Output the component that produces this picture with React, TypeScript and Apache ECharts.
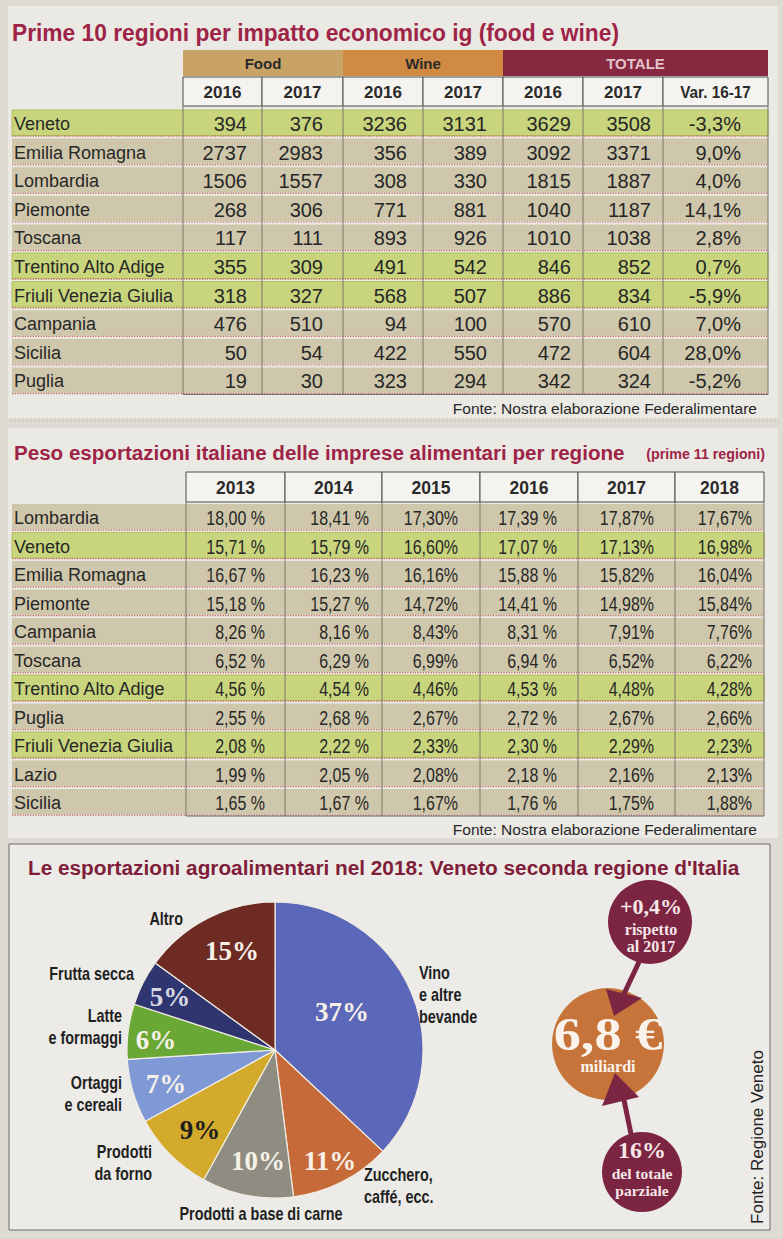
import React, { useEffect, useRef } from "react";
import * as echarts from "echarts";

const W = 783;
const H = 1239;

// ---------- Table 1 data ----------
const t1Title = "Prime 10 regioni per impatto economico ig (food e wine)";
const t1Groups = ["Food", "Wine", "TOTALE"];
const t1Years = ["2016", "2017", "2016", "2017", "2016", "2017", "Var. 16-17"];
const t1Regions = ["Veneto", "Emilia Romagna", "Lombardia", "Piemonte", "Toscana", "Trentino Alto Adige", "Friuli Venezia Giulia", "Campania", "Sicilia", "Puglia"];
const food2016 = [394, 2737, 1506, 268, 117, 355, 318, 476, 50, 19];
const food2017 = [376, 2983, 1557, 306, 111, 309, 327, 510, 54, 30];
const wine2016 = [3236, 356, 308, 771, 893, 491, 568, 94, 422, 323];
const wine2017 = [3131, 389, 330, 881, 926, 542, 507, 100, 550, 294];
const total2016 = [3629, 3092, 1815, 1040, 1010, 846, 886, 570, 472, 342];
const total2017 = [3508, 3371, 1887, 1187, 1038, 852, 834, 610, 604, 324];
const var1617 = [-3.3, 9.0, 4.0, 14.1, 2.8, 0.7, -5.9, 7.0, 28.0, -5.2];
const highlighted = ["Veneto", "Trentino Alto Adige", "Friuli Venezia Giulia"];
const source1 = "Fonte: Nostra elaborazione Federalimentare";

// ---------- Table 2 data ----------
const t2Title = "Peso esportazioni italiane delle imprese alimentari per regione";
const t2Subtitle = "(prime 11 regioni)";
const t2Years = ["2013", "2014", "2015", "2016", "2017", "2018"];
const t2Regions = ["Lombardia", "Veneto", "Emilia Romagna", "Piemonte", "Campania", "Toscana", "Trentino Alto Adige", "Puglia", "Friuli Venezia Giulia", "Lazio", "Sicilia"];
const share2013 = [18.0, 15.71, 16.67, 15.18, 8.26, 6.52, 4.56, 2.55, 2.08, 1.99, 1.65];
const share2014 = [18.41, 15.79, 16.23, 15.27, 8.16, 6.29, 4.54, 2.68, 2.22, 2.05, 1.67];
const share2015 = [17.3, 16.6, 16.16, 14.72, 8.43, 6.99, 4.46, 2.67, 2.33, 2.08, 1.67];
const share2016 = [17.39, 17.07, 15.88, 14.41, 8.31, 6.94, 4.53, 2.72, 2.3, 2.18, 1.76];
const share2017 = [17.87, 17.13, 15.82, 14.98, 7.91, 6.52, 4.48, 2.67, 2.29, 2.16, 1.75];
const share2018 = [17.67, 16.98, 16.04, 15.84, 7.76, 6.22, 4.28, 2.66, 2.23, 2.13, 1.88];
const source2 = "Fonte: Nostra elaborazione Federalimentare";

// ---------- Pie data ----------
const pieTitle = "Le esportazioni agroalimentari nel 2018: Veneto seconda regione d'Italia";
const pieCategories = ["Vino\ne altre\nbevande", "Zucchero,\ncaffé, ecc.", "Prodotti a base di carne", "Prodotti\nda forno", "Ortaggi\ne cereali", "Latte\ne formaggi", "Frutta secca", "Altro"];
const pieShares = [37, 11, 10, 9, 7, 6, 5, 15];
const totalValue = "6,8 €";
const totalUnit = "miliardi";
const changeValue = "+0,4%";
const changeText = ["rispetto", "al 2017"];
const shareValue = "16%";
const shareText = ["del totale", "parziale"];
const source3 = "Fonte: Regione Veneto";

// ---------- Styles / layout ----------
const SANS = "'Liberation Sans', Arial, sans-serif";
const SERIF = "'Liberation Serif', 'DejaVu Serif', serif";
const TITLE_RED = "#9e2447";
const TITLE_RED2 = "#801d3a";
const MAROON = "#7c2543";
const ORANGE = "#c6743a";
const ROW_BG = "#cfc7ab";
const ROW_HL = "#c8d57d";
const DOT = "#c25b5b";
const TEXT = "#272727";

const pieColors = ["#5b67b8", "#c76a3a", "#8f8d82", "#d3aa2c", "#7f98d6", "#6aa836", "#2f366f", "#6d2b23"];
const pieLabelColors = ["#f7f1e8", "#f7f1e8", "#f7f1e8", "#1e1e1e", "#f7f1e8", "#f7f1e8", "#d9d9e6", "#f7f1e8"];
const piePctPos = [[342, 1012], [330, 1161], [258, 1161], [200, 1130], [166, 1084], [156, 1040], [170, 997], [232, 951]];
// x, y of first line, alignment
const pieNamePos: [number, number, string][] = [[419, 972, "left"], [364, 1174, "left"], [261, 1213, "center"], [152, 1151, "right"], [122, 1082, "right"], [122, 1015, "right"], [134, 973, "right"], [183, 918, "right"]];
const NAME_LH = 22;

const t1ColEdges = [183, 262, 343, 423, 503, 583, 663, 768];
const t1NumRight = [247, 323, 407, 487, 571, 651, 741];
const t1GroupSpan = [[0, 2], [2, 4], [4, 7]];
const t1GroupFill = ["#c9a266", "#d08a42", "#86283f"];
const t1GroupText = ["#2a2a2a", "#2a2a2a", "#e3c3ca"];

const t2ColEdges = [186, 285, 382, 480, 578, 675, 764];
const t2NumRight = [265, 369, 458, 557, 654, 752];
const t2SpacedPct = [true, true, false, true, false, false];

function T(x: number, y: number, text: string, o: any = {}) {
  const align = o.align ?? "left";
  const va = o.va ?? "middle";
  return {
    type: "text",
    x,
    y,
    silent: true,
    z: o.z ?? 10,
    scaleX: o.sx ?? 1,
    rotation: o.rot ?? 0,
    style: {
      text,
      fill: o.fill ?? TEXT,
      fontFamily: o.ff ?? SANS,
      fontSize: o.fs ?? 18,
      fontWeight: o.fw ?? "normal",
      align,
      verticalAlign: va,
      textAlign: align,
      textVerticalAlign: va,
      lineHeight: o.lh,
    },
  };
}
function R(x: number, y: number, w: number, h: number, fill: string, o: any = {}) {
  return { type: "rect", silent: true, z: o.z ?? 1, shape: { x, y, width: w, height: h }, style: { fill, stroke: o.stroke, lineWidth: o.lw ?? 0 } };
}
function L(x1: number, y1: number, x2: number, y2: number, stroke: string, o: any = {}) {
  return { type: "line", silent: true, z: o.z ?? 3, shape: { x1, y1, x2, y2 }, style: { stroke, lineWidth: o.lw ?? 1, lineDash: o.dash } };
}
const fmt1 = (v: number) => v.toFixed(1).replace(".", ",") + "%";
const fmt2 = (v: number, spaced: boolean) => v.toFixed(2).replace(".", ",") + (spaced ? " %" : "%");

function buildGraphics() {
  const els: any[] = [];
  // panels
  els.push(R(8, 6, 770, 412, "#ebe9e4", { z: 0 }));
  els.push(R(8, 428, 770, 410, "#ebe9e4", { z: 0 }));
  els.push(R(9, 844, 761, 386, "#ecebe7", { z: 0, stroke: "#6a6a6a", lw: 1 }));
  els.push(L(10, 421, 776, 421, "#b9b5ad", { dash: [2, 2], z: 1 }));

  // ----- Table 1 -----
  els.push(T(12, 33, t1Title, { fs: 23, fw: "bold", fill: TITLE_RED, sx: 0.99 }));
  t1Groups.forEach((g, i) => {
    const [a, b] = t1GroupSpan[i];
    const x0 = t1ColEdges[a];
    const x1 = t1ColEdges[b];
    els.push(R(x0, 50, x1 - x0, 26, t1GroupFill[i], { z: 2 }));
    els.push(T((x0 + x1) / 2, 63, g, { align: "center", fs: 15, fw: "bold", fill: t1GroupText[i] }));
  });
  t1Years.forEach((yr, c) => {
    const x0 = t1ColEdges[c];
    const x1 = t1ColEdges[c + 1];
    els.push(R(x0, 77, x1 - x0, 29, "#f5f3ef", { z: 2, stroke: "#4d4d4d", lw: 1 }));
    els.push(T((x0 + x1) / 2, 92, yr, { align: "center", fs: 17, fw: "bold", fill: "#2a2a2a", sx: c === 6 ? 0.9 : 1 }));
  });
  const t1Cols = [food2016, food2017, wine2016, wine2017, total2016, total2017];
  const p1 = 28.6;
  t1Regions.forEach((reg, r) => {
    const cy = 123 + r * p1;
    const hl = highlighted.includes(reg);
    els.push(R(12, cy - 13, 756, 25.5, hl ? ROW_HL : ROW_BG, { z: 1, stroke: hl ? "#b2c15e" : undefined, lw: hl ? 1 : 0 }));
    els.push(L(12, cy + 13.2, 768, cy + 13.2, DOT, { dash: [1.2, 1.4], lw: 1.2 }));
    els.push(T(14, cy + 1, reg, { fs: 18 }));
    t1Cols.forEach((col, c) => {
      els.push(T(t1NumRight[c], cy + 1, String(col[r]), { align: "right", fs: 20 }));
    });
    els.push(T(t1NumRight[6], cy + 1, fmt1(var1617[r]), { align: "right", fs: 20 }));
  });
  const t1Bottom = 123 + 9 * p1 + 14;
  t1ColEdges.forEach((x) => {
    els.push(L(x, 106, x, t1Bottom, "#7b766c", { lw: 1, z: 4 }));
  });
  els.push(L(183, t1Bottom, 768, t1Bottom, "#6b665d", { lw: 1, z: 4 }));
  els.push(T(757, 408, source1, { align: "right", fs: 15.5 }));

  // ----- Table 2 -----
  els.push(T(14, 452, t2Title, { fs: 21, fw: "bold", fill: TITLE_RED, sx: 0.98 }));
  els.push(T(765, 454, t2Subtitle, { align: "right", fs: 15.5, fw: "bold", fill: TITLE_RED, sx: 0.92 }));
  t2Years.forEach((yr, c) => {
    const x0 = t2ColEdges[c];
    const x1 = t2ColEdges[c + 1];
    els.push(R(x0, 472, x1 - x0, 30, "#f5f3ef", { z: 2, stroke: "#4d4d4d", lw: 1 }));
    els.push(T((x0 + x1) / 2, 488, yr, { align: "center", fs: 17.5, fw: "bold", fill: "#2a2a2a" }));
  });
  const t2Cols = [share2013, share2014, share2015, share2016, share2017, share2018];
  const p2 = 28.5;
  t2Regions.forEach((reg, r) => {
    const cy = 517 + r * p2;
    const hl = highlighted.includes(reg);
    els.push(R(12, cy - 13, 752, 25.5, hl ? ROW_HL : ROW_BG, { z: 1, stroke: hl ? "#b2c15e" : undefined, lw: hl ? 1 : 0 }));
    els.push(L(12, cy + 13.2, 764, cy + 13.2, DOT, { dash: [1.2, 1.4], lw: 1.2 }));
    els.push(T(14, cy + 1, reg, { fs: 18 }));
    t2Cols.forEach((col, c) => {
      els.push(T(t2NumRight[c], cy + 1, fmt2(col[r], t2SpacedPct[c]), { align: "right", fs: 20.5, sx: 0.78 }));
    });
  });
  const t2Bottom = 517 + 10 * p2 + 14;
  t2ColEdges.forEach((x) => {
    els.push(L(x, 502, x, t2Bottom, "#7b766c", { lw: 1, z: 4 }));
  });
  els.push(L(186, t2Bottom, 764, t2Bottom, "#6b665d", { lw: 1, z: 4 }));
  els.push(T(757, 829, source2, { align: "right", fs: 15.5 }));

  // ----- Pie section -----
  els.push(T(28, 867, pieTitle, { fs: 21, fw: "bold", fill: TITLE_RED2, sx: 0.99 }));
  pieCategories.forEach((name, i) => {
    const [x, y, al] = pieNamePos[i];
    els.push(T(x, y - NAME_LH / 2, name, { align: al, va: "top", fs: 18, fw: "bold", sx: 0.8, lh: NAME_LH, fill: "#1f1f1f" }));
  });
  // circles
  els.push({ type: "circle", silent: true, z: 5, shape: { cx: 650, cy: 922, r: 42 }, style: { fill: MAROON } });
  els.push({ type: "circle", silent: true, z: 5, shape: { cx: 608, cy: 1044, r: 56 }, style: { fill: ORANGE } });
  els.push({ type: "circle", silent: true, z: 5, shape: { cx: 642, cy: 1172, r: 40 }, style: { fill: MAROON } });
  // arrows
  els.push(L(639, 962, 623, 996, MAROON, { lw: 5, z: 6 }));
  els.push({ type: "polygon", silent: true, z: 6, shape: { points: [[606, 989], [642, 998], [614, 1016]] }, style: { fill: MAROON } });
  els.push(L(631, 1134, 624, 1100, MAROON, { lw: 5, z: 6 }));
  els.push({ type: "polygon", silent: true, z: 6, shape: { points: [[602, 1106], [639, 1097], [615, 1073]] }, style: { fill: MAROON } });
  // circle texts
  const CT = "#f5e7e7";
  els.push(T(651, 906, changeValue, { align: "center", ff: SERIF, fw: "bold", fs: 22, fill: CT, z: 7 }));
  els.push(T(651, 929, changeText[0], { align: "center", ff: SERIF, fw: "bold", fs: 16, fill: CT, z: 7 }));
  els.push(T(651, 946, changeText[1], { align: "center", ff: SERIF, fw: "bold", fs: 16, fill: CT, z: 7 }));
  els.push(T(608, 1034, totalValue, { align: "center", ff: SERIF, fw: "bold", fs: 46, sx: 1.18, fill: "#faf3ec", z: 7 }));
  els.push(T(608, 1066, totalUnit, { align: "center", ff: SERIF, fw: "bold", fs: 16, fill: "#faf3ec", z: 7 }));
  els.push(T(642, 1150, shareValue, { align: "center", ff: SERIF, fw: "bold", fs: 24, fill: CT, z: 7 }));
  els.push(T(642, 1173, shareText[0], { align: "center", ff: SERIF, fw: "bold", fs: 15.5, fill: CT, z: 7 }));
  els.push(T(642, 1190, shareText[1], { align: "center", ff: SERIF, fw: "bold", fs: 15.5, fill: CT, z: 7 }));
  els.push(T(757, 1137, source3, { align: "center", fs: 17, rot: Math.PI / 2, fill: "#222" }));
  return els;
}

export default function App() {
  const ref = useRef<HTMLDivElement>(null);
  useEffect(() => {
    if (!ref.current) return;
    const chart = echarts.init(ref.current, null, { renderer: "svg", width: W, height: H });
    const option: any = {
      animation: false,
      backgroundColor: "#dedbd4",
      graphic: { elements: buildGraphics() },
      series: [
        {
          type: "pie",
          silent: true,
          z: 3,
          center: [275, 1050],
          radius: 148,
          startAngle: 90,
          clockwise: true,
          avoidLabelOverlap: false,
          emphasis: { disabled: true },
          itemStyle: { borderColor: "#f1ede4", borderWidth: 1.2 },
          label: {
            show: true,
            position: "inside",
            formatter: "{c}%",
            fontFamily: SERIF,
            fontWeight: "bold",
            fontSize: 27,
          },
          labelLine: { show: false },
          labelLayout: (p: any) => ({
            x: piePctPos[p.dataIndex][0],
            y: piePctPos[p.dataIndex][1],
            align: "center",
            verticalAlign: "middle",
          }),
          data: pieCategories.map((name, i) => ({
            name,
            value: pieShares[i],
            itemStyle: { color: pieColors[i] },
            label: { color: pieLabelColors[i] },
          })),
        },
      ],
    };
    chart.setOption(option);
    return () => chart.dispose();
  }, []);
  return <div ref={ref} style={{ position: "absolute", left: 0, top: 0, width: W, height: H }} />;
}
